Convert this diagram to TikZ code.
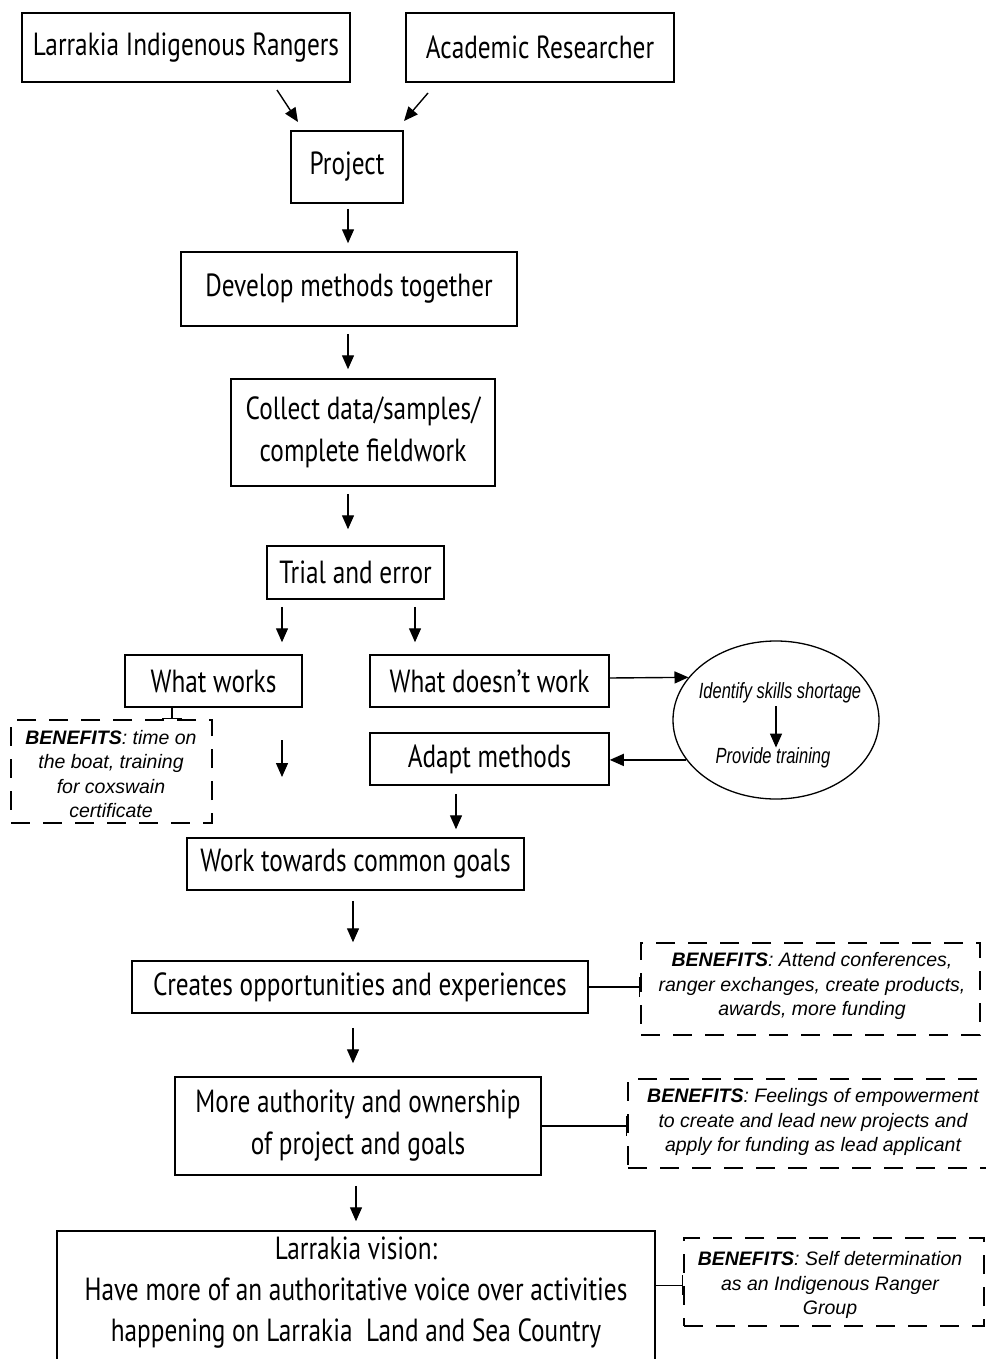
\documentclass[tikz,border=0pt]{standalone}
\usepackage{fontspec}
\setmainfont{PT Sans}[FakeStretch=0.79]
\newfontfamily\benfont{Liberation Sans}
\newfontfamily\ellfont{Liberation Sans}[FakeStretch=0.75]
\usetikzlibrary{arrows.meta,shapes.geometric,calc}
\begin{document}
\begin{tikzpicture}[x=1pt,y=-1pt,
  box/.style={draw, line width=1.5pt, inner sep=0pt, align=center,
    font=\fontsize{32}{42}\selectfont},
  benbox/.style={draw, line width=1.3pt, dash pattern=on 19pt off 13pt,
    inner sep=0pt, align=center, font=\benfont\itshape\fontsize{19.5}{24.5}\selectfont},
  arr/.style={line width=1.4pt, -{Triangle[length=14pt,width=12pt]}},
  barc/.style={line width=1.3pt, -{Bar[width=20pt,line width=1.3pt]}},
  elltext/.style={inner sep=0pt, font=\ellfont\itshape\fontsize{22}{26}\selectfont}
]
\useasboundingbox (0,0) rectangle (985,1359);
\fill[white] (0,0) rectangle (985,1359);

% main boxes
\node[box, minimum width=328pt, minimum height=69pt] (rangers) at (186,47.5) {Larrakia Indigenous Rangers};
\node[box, minimum width=268pt, minimum height=69pt] (academic) at (540,47.5) {Academic Researcher};
\node[box, minimum width=112pt, minimum height=72pt] (project) at (347,167) {Project};
\node[box, minimum width=336pt, minimum height=74pt] (develop) at (349,289) {Develop methods together};
\node[box, minimum width=264pt, minimum height=107pt] (collect) at (363,432.5) {Collect data/samples/\\complete fieldwork};
\node[box, minimum width=177pt, minimum height=53pt] (trial) at (355.5,572.5) {Trial and error};
\node[box, minimum width=177pt, minimum height=52pt] (works) at (213.5,681) {What works};
\node[box, minimum width=239pt, minimum height=52pt] (doesnt) at (489.5,681) {What doesn’t work};
\node[box, minimum width=239pt, minimum height=52pt] (adapt) at (489.5,759) {Adapt methods};
\node[draw, ellipse, line width=1.3pt, minimum width=206pt, minimum height=158pt, inner sep=0pt] (ell) at (776,720) {};
\node[elltext] (identify) at (780,693) {Identify skills shortage};
\node[elltext] (provide) at (773,758) {Provide training};
\node[box, minimum width=337pt, minimum height=52pt] (work) at (355.5,864) {Work towards common goals};
\node[box, minimum width=456pt, minimum height=52pt] (creates) at (360,987) {Creates opportunities and experiences};
\node[box, minimum width=366pt, minimum height=98pt] (authority) at (358,1126) {More authority and ownership\\of project and goals};
\node[box, minimum width=598pt, minimum height=160pt] (vision) at (356,1311) {};
\node[inner sep=0pt, align=center, font=\fontsize{32}{41}\selectfont] (visiontext) at (356,1293)
  {Larrakia vision:\\Have more of an authoritative voice over activities\\happening on Larrakia\ \ Land and Sea Country};

% benefits boxes
\node[benbox, minimum width=201pt, minimum height=103pt] (ben1) at (111.5,771.5) {};
\node[benbox, draw=none] (ben1t) at (111,774) {\textbf{BENEFITS}: time on\\the boat, training\\for coxswain\\certificate};
\node[benbox, minimum width=339pt, minimum height=92pt] (ben2) at (810.5,989) {};
\node[benbox, draw=none] (ben2t) at (812,986) {\textbf{BENEFITS}: Attend conferences,\\ranger exchanges, create products,\\awards, more funding};
\node[benbox, minimum width=370pt, minimum height=89pt] (ben3) at (813,1123.5) {};
\node[benbox, draw=none] (ben3t) at (813,1122) {\textbf{BENEFITS}: Feelings of empowerment\\to create and lead new projects and\\apply for funding as lead applicant};
\node[benbox, minimum width=300pt, minimum height=88pt] (ben4) at (834,1282) {};
\node[benbox, draw=none] (ben4t) at (830,1285) {\textbf{BENEFITS}: Self determination\\as an Indigenous Ranger\\Group};

% free arrow end points
\coordinate (d1s) at (277,90);
\coordinate (d1e) at (298,122);
\coordinate (d2s) at (428,93);
\coordinate (d2e) at (404,121);
\coordinate (f1s) at (282,740);
\coordinate (f1e) at (282,777);

% arrows
\draw[arr] (d1s) -- (d1e);
\draw[arr] (d2s) -- (d2e);
\draw[arr, shorten <=5pt, shorten >=8pt] (project.south -| 348,0) -- (develop.north -| 348,0);
\draw[arr, shorten <=7pt, shorten >=9pt] (develop.south -| 348,0) -- (collect.north -| 348,0);
\draw[arr, shorten <=7pt, shorten >=16pt] (collect.south -| 348,0) -- (trial.north -| 348,0);
\draw[arr, shorten <=7pt, shorten >=12pt] (trial.south -| 282,0) -- (works.north -| 282,0);
\draw[arr, shorten <=7pt, shorten >=12pt] (trial.south -| 415,0) -- (doesnt.north -| 415,0);
\draw[arr] (doesnt.east |- 0,678) -- (ell.154);
\draw[arr, shorten <=3pt] (identify.south -| ell.center) -- (provide.north -| ell.center);
\draw[arr] (ell.204) -- (adapt.east |- ell.204);
\draw[arr] (f1s) -- (f1e);
\draw[arr, shorten <=8pt, shorten >=8pt] (adapt.south -| 456,0) -- (work.north -| 456,0);
\draw[arr, shorten <=10pt, shorten >=18pt] (work.south -| 353,0) -- (creates.north -| 353,0);
\draw[arr, shorten <=14pt, shorten >=13pt] (creates.south -| 353,0) -- (authority.north -| 353,0);
\draw[arr, shorten <=10pt, shorten >=9pt] (authority.south -| 356,0) -- (vision.north -| 356,0);

% benefit connectors
\draw[barc] (works.south -| 172,0) -- (ben1.north -| 172,0);
\draw[barc] (creates.east) -- (creates.east -| ben2.west);
\draw[barc] (authority.east) -- (authority.east -| ben3.west);
\draw[barc] ([yshift=-55pt]vision.north east) -- ([yshift=-55pt]vision.north east -| ben4.west);
\end{tikzpicture}
\end{document}
